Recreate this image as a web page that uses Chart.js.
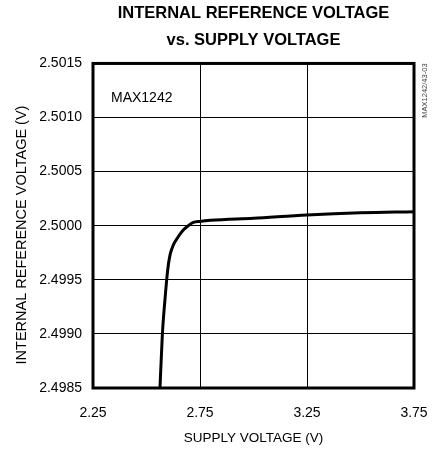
<!DOCTYPE html>
<html>
<head>
<meta charset="utf-8">
<script src="https://cdn.jsdelivr.net/npm/chart.js@4"></script>
<style>
  body { margin: 0; background: #fff; }
  canvas { display: block; }
</style>
</head>
<body>
<canvas id="chart" width="438" height="452"></canvas>
<script>
// values
const supplyV = [2.563, 2.574, 2.586, 2.599, 2.610, 2.625, 2.649, 2.672, 2.695, 2.719, 2.75, 2.80, 3.00, 3.25, 3.50, 3.75];
const refV = [2.4985, 2.49899, 2.49931, 2.49959, 2.49973, 2.49982, 2.49990, 2.49996, 2.50000, 2.50003, 2.50004, 2.50005, 2.50007, 2.50010, 2.50012, 2.50013];

const xTicks = [2.25, 2.75, 3.25, 3.75];
const xTickLabels = ['2.25', '2.75', '3.25', '3.75'];
const yTicks = [2.4985, 2.4990, 2.4995, 2.5000, 2.5005, 2.5010, 2.5015];
const yTickLabels = ['2.4985', '2.4990', '2.4995', '2.5000', '2.5005', '2.5010', '2.5015'];

const FONT = "'Liberation Sans', Arial, Helvetica, sans-serif";

const points = supplyV.map((v, i) => ({ x: v, y: refV[i] }));

function labelFor(ticks, labels, value) {
    const i = ticks.findIndex(t => Math.abs(t - value) < 1e-9);
    return i >= 0 ? labels[i] : '';
}

// frame, part number label, y title, side note
const extras = {
    id: 'extras',
    beforeDraw(chart) {
        const c = chart.ctx;
        c.save();
        c.fillStyle = '#fff';
        c.fillRect(0, 0, chart.width, chart.height);
        c.restore();
    },
    afterDraw(chart) {
        const c = chart.ctx;
        const a = chart.chartArea;
        c.save();
        c.strokeStyle = '#000';
        c.lineWidth = 3;
        c.strokeRect(a.left, a.top, a.right - a.left, a.bottom - a.top);

        c.fillStyle = '#000';
        c.font = '14px ' + FONT;
        c.textAlign = 'left';
        c.textBaseline = 'middle';
        c.fillText('MAX1242', a.left + 18, a.top + 35);

        c.save();
        c.translate(22, 235);
        c.rotate(-Math.PI / 2);
        c.textAlign = 'center';
        c.font = '14.5px ' + FONT;
        c.fillText('INTERNAL REFERENCE VOLTAGE (V)', 0, 0);
        c.restore();

        c.save();
        c.translate(a.right + 11, a.top);
        c.rotate(-Math.PI / 2);
        c.textAlign = 'right';
        c.fillStyle = '#444';
        c.font = '7.5px ' + FONT;
        c.fillText('MAX1242/43-03', 0, 0);
        c.restore();
        c.restore();
    }
};

new Chart(document.getElementById('chart'), {
    type: 'scatter',
    data: {
        datasets: [{
            data: points,
            showLine: true,
            borderColor: '#000',
            borderWidth: 3,
            pointRadius: 0,
            cubicInterpolationMode: 'monotone'
        }]
    },
    options: {
        responsive: false,
        animation: false,
        layout: { padding: { left: 0, right: 24, top: 0, bottom: 0 } },
        plugins: {
            legend: { display: false },
            tooltip: { enabled: false },
            title: {
                display: true,
                fullSize: false,
                text: ['INTERNAL REFERENCE VOLTAGE', 'vs. SUPPLY VOLTAGE'],
                color: '#000',
                font: { family: FONT, size: 16.5, weight: 'bold', lineHeight: 1.65 },
                padding: { top: 0, bottom: 9 }
            }
        },
        scales: {
            x: {
                type: 'linear',
                min: 2.25,
                max: 3.75,
                afterBuildTicks(scale) { scale.ticks = xTicks.map(v => ({ value: v })); },
                afterFit(scale) {
                    scale.height = 64;
                    scale.paddingLeft = 0;
                    scale.paddingRight = 0;
                },
                grid: { color: '#000', lineWidth: 1, drawTicks: false },
                border: { display: false },
                ticks: {
                    padding: 17,
                    color: '#000',
                    font: { family: FONT, size: 14 },
                    maxRotation: 0,
                    callback: v => labelFor(xTicks, xTickLabels, v)
                },
                title: {
                    display: true,
                    text: 'SUPPLY VOLTAGE (V)',
                    color: '#000',
                    font: { family: FONT, size: 13.5 },
                    padding: { top: 0, bottom: 6 }
                }
            },
            y: {
                type: 'linear',
                min: 2.4985,
                max: 2.5015,
                afterBuildTicks(scale) { scale.ticks = yTicks.map(v => ({ value: v })); },
                afterFit(scale) { scale.width = 93; },
                grid: { color: '#000', lineWidth: 1, drawTicks: false },
                border: { display: false },
                ticks: {
                    padding: 11,
                    color: '#000',
                    font: { family: FONT, size: 14 },
                    callback: v => labelFor(yTicks, yTickLabels, v)
                }
            }
        }
    },
    plugins: [extras]
});
</script>
</body>
</html>
